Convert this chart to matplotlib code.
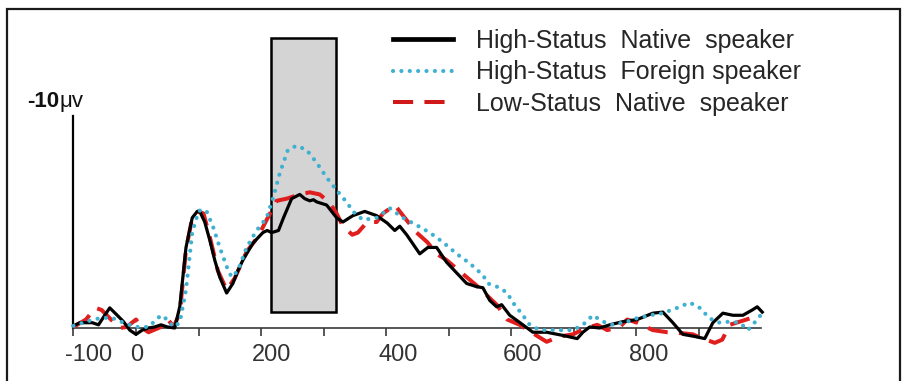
import matplotlib
matplotlib.use("Agg")
import matplotlib.pyplot as plt
from matplotlib.patches import Rectangle
from matplotlib.lines import Line2D

plt.rcParams['font.family'] = ['Liberation Sans', 'DejaVu Sans']

# ---------------- data (time in ms, amplitude in microvolts, negative up) ----------------
series_names = ["High-Status  Native  speaker",
                "High-Status  Foreign speaker",
                "Low-Status  Native  speaker"]

t_hs_native = [-100, -90, -70, -60, -50, -42, -30, -20, -10, 0, 10, 20, 30, 40, 50, 62, 70, 80, 90, 98,
               102, 110, 118, 126, 134, 145, 155, 163, 171, 187, 203, 210, 217, 228, 236, 249, 262, 270,
               278, 284, 289, 305, 321, 331, 347, 366, 385, 402, 414, 422, 433, 454, 467, 481, 497, 513,
               529, 545, 555, 566, 577, 585, 598, 619, 635, 657, 683, 706, 715, 726, 742, 758, 779, 802,
               827, 843, 859, 875, 894, 910, 923, 939, 955, 971, 986, 994, 1002]
v_hs_native = [-0.1, -0.25, -0.25, -0.15, -0.6, -0.95, -0.6, -0.3, 0.1, 0.3, 0.1, 0.0, -0.05, -0.15, -0.05,
               0.0, -1.0, -3.8, -5.2, -5.5, -5.5, -5.0, -4.15, -3.2, -2.4, -1.65, -2.1, -2.7, -3.2, -4.0,
               -4.5, -4.6, -4.5, -4.6, -5.2, -6.1, -6.3, -6.1, -6.0, -6.05, -5.95, -5.8, -5.2, -5.0, -5.3,
               -5.5, -5.3, -4.95, -4.6, -4.8, -4.4, -3.5, -3.8, -3.8, -3.1, -2.6, -2.1, -1.95, -1.9, -1.3,
               -1.0, -1.1, -0.6, -0.15, 0.2, 0.2, 0.35, 0.5, 0.2, -0.05, 0.0, -0.15, -0.3, -0.4, -0.7,
               -0.75, -0.25, 0.3, 0.4, 0.5, -0.25, -0.7, -0.6, -0.6, -0.85, -1.0, -0.75]

t_hs_foreign = [-100, -80, -60, -40, -20, 0, 20, 40, 50, 60, 70, 80, 90, 100, 106, 113, 123, 134, 145, 153,
                163, 177, 193, 209, 220, 230, 243, 257, 273, 289, 305, 321, 338, 347, 363, 385, 406, 427,
                449, 470, 491, 513, 534, 555, 563, 582, 594, 603, 619, 630, 646, 674, 699, 715, 731, 747,
                763, 786, 800, 822, 843, 866, 886, 902, 918, 934, 950, 966, 979, 994, 1003]
v_hs_foreign = [-0.1, -0.3, -0.45, -0.5, -0.25, -0.05, -0.05, -0.6, -0.4, -0.05, -0.25, -1.8, -4.5, -5.5,
                -5.6, -5.5, -4.8, -3.8, -2.9, -2.4, -2.7, -3.8, -4.6, -5.2, -6.2, -7.3, -8.4, -8.6, -8.4,
                -7.8, -7.1, -6.5, -5.9, -5.5, -5.1, -5.2, -5.65, -5.2, -4.85, -4.5, -4.05, -3.5, -3.05,
                -2.5, -2.1, -1.9, -1.65, -1.2, -0.6, -0.15, 0.1, 0.1, 0.1, -0.15, -0.6, -0.3, -0.15, -0.3,
                -0.45, -0.6, -0.7, -0.95, -1.2, -0.95, -0.45, -0.25, -0.3, -0.25, 0.1, -0.4, -0.75]

t_ls_native = [-100, -80, -65, -55, -40, -25, -15, 0, 10, 20, 40, 50, 60, 70, 80, 90, 100, 108, 118, 131,
               145, 158, 177, 195, 209, 225, 241, 262, 278, 294, 310, 321, 331, 346, 355, 370, 385, 395,
               414, 430, 449, 466, 481, 497, 513, 529, 545, 561, 577, 594, 614, 635, 657, 678, 699, 720,
               738, 754, 774, 786, 802, 827, 850, 875, 891, 907, 926, 938, 950, 966, 982, 994]
v_ls_native = [-0.05, -0.4, -0.95, -0.85, -0.4, 0.0, -0.05, -0.4, 0.0, 0.2, -0.05, -0.45, -0.05, -0.7, -3.7,
               -5.2, -5.5, -5.4, -4.3, -2.7, -1.8, -2.35, -3.6, -4.3, -5.1, -6.0, -6.1, -6.3, -6.4, -6.3,
               -5.9, -5.4, -4.8, -4.4, -4.5, -5.0, -5.0, -5.4, -5.8, -5.2, -4.5, -4.05, -3.5, -3.2, -2.8,
               -2.4, -2.0, -1.55, -1.1, -0.4, -0.15, 0.25, 0.65, 0.4, 0.3, 0.0, -0.15, 0.1, -0.05, -0.4,
               -0.25, 0.1, 0.2, 0.25, 0.3, 0.5, 0.7, 0.55, -0.15, -0.3, -0.45, -0.75]

window_ms = [216, 320]          # shaded analysis window
window_uv = [-0.75, -13.7]

xtick_marks = list(range(-100, 901, 100))
xtick_labels = ["-100", "0", "200", "400", "600", "800"]
xtick_label_pos = [-100, 0, 200, 400, 600, 800]
xtick_label_dx_px = [15, 1, 11, 12, 12, 13]

# ---------------- figure ----------------
W, H = 905, 381
fig = plt.figure(figsize=(W / 100, H / 100), dpi=100)

def fx(px):
    return px / W

def fy(py):
    return 1 - py / H

x0_px, x100 = 136, 0.625    # pixel of t=0, px per ms
y0_px, yuv = 328, 21.2      # pixel of 0 uV, px per uV

ax = fig.add_axes([fx(60), fy(370), 720 / W, 350 / H])
ax.set_xlim((60 - x0_px) / x100, (780 - x0_px) / x100)
ax.set_ylim((370 - y0_px) / yuv, -(y0_px - 20) / yuv)
ax.patch.set_alpha(0)

for s in ['top', 'right']:
    ax.spines[s].set_visible(False)
ax.spines['bottom'].set_position(('data', 0))
ax.spines['bottom'].set_bounds(-100, 1000)
ax.spines['bottom'].set_color('#3a3a3a')
ax.spines['bottom'].set_linewidth(1.2)
ax.spines['left'].set_position(('data', -100))
ax.spines['left'].set_bounds(-10, 0)
ax.spines['left'].set_linewidth(1.6)
ax.spines['left'].set_color('black')
ax.set_yticks([])
ax.set_xticks(xtick_marks)
ax.set_xticklabels([])
ax.tick_params(axis='x', direction='out', length=6, width=1.2, color='#3a3a3a')

for lab, pos, dx in zip(xtick_labels, xtick_label_pos, xtick_label_dx_px):
    ax.annotate(lab, xy=(pos, 0), xytext=(dx * 0.72, -16 * 0.72), textcoords='offset points',
                ha='center', va='top', fontsize=17, color='#333333')

ax.add_patch(Rectangle((window_ms[0], window_uv[0]), window_ms[1] - window_ms[0],
                       window_uv[1] - window_uv[0], facecolor='#d4d4d4',
                       edgecolor='black', linewidth=1.8, zorder=1))

ax.plot(t_ls_native, v_ls_native, color='#e01e1e', lw=2.9,
        linestyle=(0, (5.0, 2.8)), dash_capstyle='butt', zorder=3)
ax.plot(t_hs_native, v_hs_native, color='black', lw=2.3, zorder=4,
        solid_joinstyle='round')
ax.plot(t_hs_foreign, v_hs_foreign, color='#3fb0d0', lw=3.0,
        linestyle=(0, (0.01, 2.0)), dash_capstyle='round', zorder=5)

h_blk = Line2D([], [], color='black', lw=3.4)
h_blu = Line2D([], [], color='#3fb0d0', lw=3.0, linestyle=(0, (0.01, 2.0)), dash_capstyle='round')
h_red = Line2D([], [], color='#d01818', lw=2.9, linestyle=(0, (5.0, 2.8)))
leg = fig.legend([h_blk, h_blu, h_red], series_names, loc='upper left',
                 bbox_to_anchor=(fx(393), fy(29)), bbox_transform=fig.transFigure,
                 frameon=False, fontsize=18, handlelength=2.4, handletextpad=0.92,
                 labelspacing=0.3, borderpad=0, borderaxespad=0)
for t in leg.get_texts():
    t.set_color('#262626')

t1 = fig.text(fx(27), fy(107), "-10", fontsize=16, fontweight='bold', ha='left', va='baseline',
              color='#111111')
ax.annotate("μv", xy=(1, 0), xycoords=t1, xytext=(0.5, 0), textcoords='offset points',
            ha='left', va='bottom', fontsize=16, color='#111111', annotation_clip=False)

fig.add_artist(Rectangle((fx(7), fy(390)), fx(900) - fx(7), fy(9) - fy(390),
                         transform=fig.transFigure, fill=False, lw=1.6, ec='#1a1a1a'))

fig.savefig("out.png", dpi=100)
